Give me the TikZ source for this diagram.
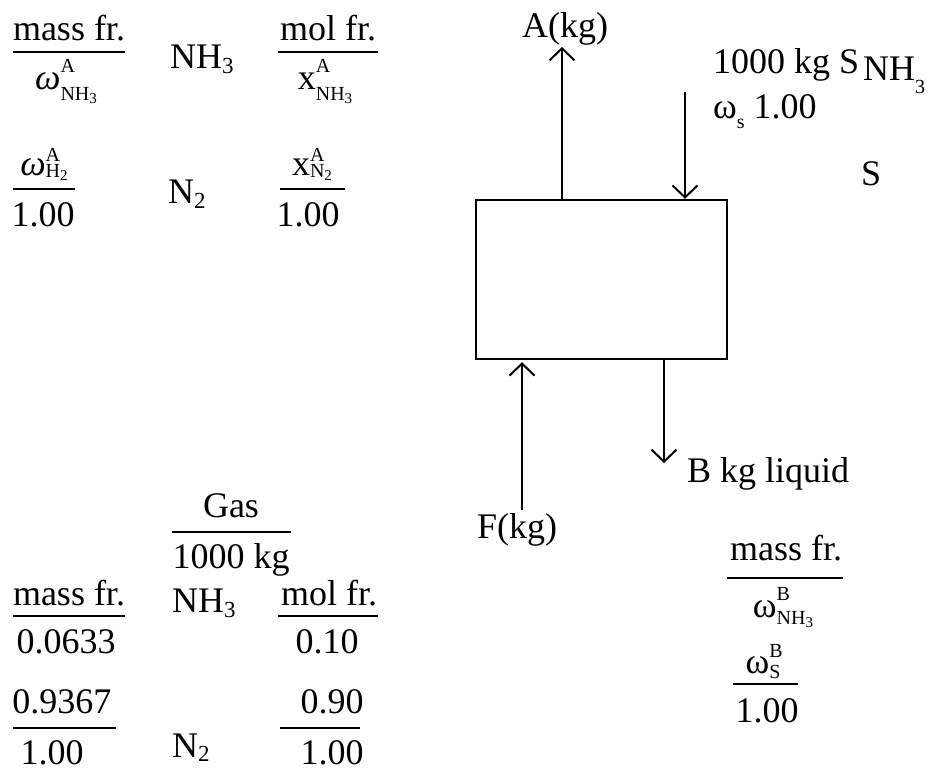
\documentclass[tikz,border=0pt]{standalone}
\usepackage{fontspec}
\setmainfont{Liberation Serif}
\usetikzlibrary{arrows.meta}
\newcommand\myom{\textit{ω}}
% base, sup, sub, raise, lower
\newcommand\sps[5]{#1\rlap{\raisebox{#4}{\fontsize{20}{20}\selectfont #2}}\raisebox{-#5}{\fontsize{20}{20}\selectfont #3}}
\newcommand\tsub[1]{\raisebox{-3pt}{\fontsize{15}{15}\selectfont #1}}
\newcommand\msub[2]{\raisebox{-#2}{\fontsize{23}{23}\selectfont #1}}
\begin{document}
\begin{tikzpicture}[x=1pt,y=-1pt,
  t/.style={inner sep=0pt, font=\fontsize{36}{40}\selectfont, anchor=base},
  tl/.style={t, anchor=base west},
  rule/.style={line width=1.6pt},
  arr/.style={line width=2pt, -{Straight Barb[length=12pt,width=25pt,line width=2pt]}},
  unit/.style={draw, line width=2.4pt, inner sep=0pt, minimum width=251pt, minimum height=159pt}]
\useasboundingbox (0,0) rectangle (928,769);

% ---- top-left table (stream A) ----
\node[t] (mfA) at (69,40) {mass fr.};
\draw[rule] (13,52) -- (125,52);
\node[t] (wA1) at (66,89) {\sps{\myom}{A}{NH\tsub{3}}{17pt}{11pt}};
\node[tl] (nhA) at (170,68) {NH\msub{3}{5pt}};
\node[t] (moA) at (328,40) {mol fr.};
\draw[rule] (278,52) -- (378,52);
\node[t] (xA1) at (325,89) {\sps{x}{A}{NH\tsub{3}}{17pt}{11pt}};
\node[t] (wA2) at (44,175) {\sps{\myom}{A}{H\tsub{2}}{14pt}{2pt}};
\draw[rule] (13,189) -- (75,189);
\node[t] (oA1) at (43,226) {1.00};
\node[tl] (n2A) at (168,203) {N\msub{2}{5pt}};
\node[t] (xA2) at (312,175) {\sps{x}{A}{N\tsub{2}}{14pt}{2pt}};
\draw[rule] (280,189) -- (345,189);
\node[t] (oA2) at (308,226) {1.00};

% ---- bottom-left table (gas feed) ----
\node[t] (gas) at (231,517) {Gas};
\draw[rule] (172,532) -- (291,532);
\node[t] (kgF) at (231,568) {1000 kg};
\node[t] (mfF) at (69,605) {mass fr.};
\draw[rule] (13,616) -- (125,616);
\node[t] (vF1) at (66,653) {0.0633};
\node[tl] (nhF) at (172,612) {NH\msub{3}{5pt}};
\node[t] (moF) at (329,605) {mol fr.};
\draw[rule] (278,616) -- (378,616);
\node[t] (vF2) at (327,653) {0.10};
\node[t] (vF3) at (62,713) {0.9367};
\draw[rule] (13,728) -- (116,728);
\node[t] (vF4) at (52,764) {1.00};
\node[tl] (n2F) at (172,757) {N\msub{2}{4pt}};
\node[t] (vF5) at (332,713) {0.90};
\draw[rule] (280,728) -- (360,728);
\node[t] (vF6) at (332,764) {1.00};

% ---- unit and streams ----
\node[unit] (box) at (601.5,279.5) {};
\coordinate (Atip) at (562,47);
\coordinate (Sin) at (685,92);
\coordinate (Fin) at (522,510);
\coordinate (Btip) at (664,463);
\draw[arr] (box.north -| Atip) -- (Atip);
\draw[arr] (Sin) -- (box.north -| Sin);
\draw[arr] (Fin) -- ([yshift=-2pt]box.south -| Fin);
\draw[arr] (box.south -| Btip) -- (Btip);

\node[t] (Alab) at (565,37) {A(kg)};
\node[tl] (S1) at (713,73) {1000 kg S};
\node[tl] (S2) at (863,80) {NH\raisebox{-13pt}{\fontsize{20}{20}\selectfont 3}};
\node[tl] (S3) at (713,118) {ω\raisebox{-10pt}{\fontsize{20}{20}\selectfont s} 1.00};
\node[t] (S4) at (871,185) {S};
\node[tl] (Blab) at (687,482) {B kg liquid};
\node[t] (Flab) at (517,538) {F(kg)};

% ---- bottom-right table (stream B) ----
\node[t] (mfB) at (786,560) {mass fr.};
\draw[rule] (727,578) -- (843,578);
\node[t] (wB1) at (783,617) {\sps{ω}{B}{NH\tsub{3}}{17pt}{7pt}};
\node[t] (wB2) at (763,673) {\sps{ω}{B}{S}{16pt}{5pt}};
\draw[rule] (733,684) -- (798,684);
\node[t] (oB) at (767,722) {1.00};
\end{tikzpicture}
\end{document}
